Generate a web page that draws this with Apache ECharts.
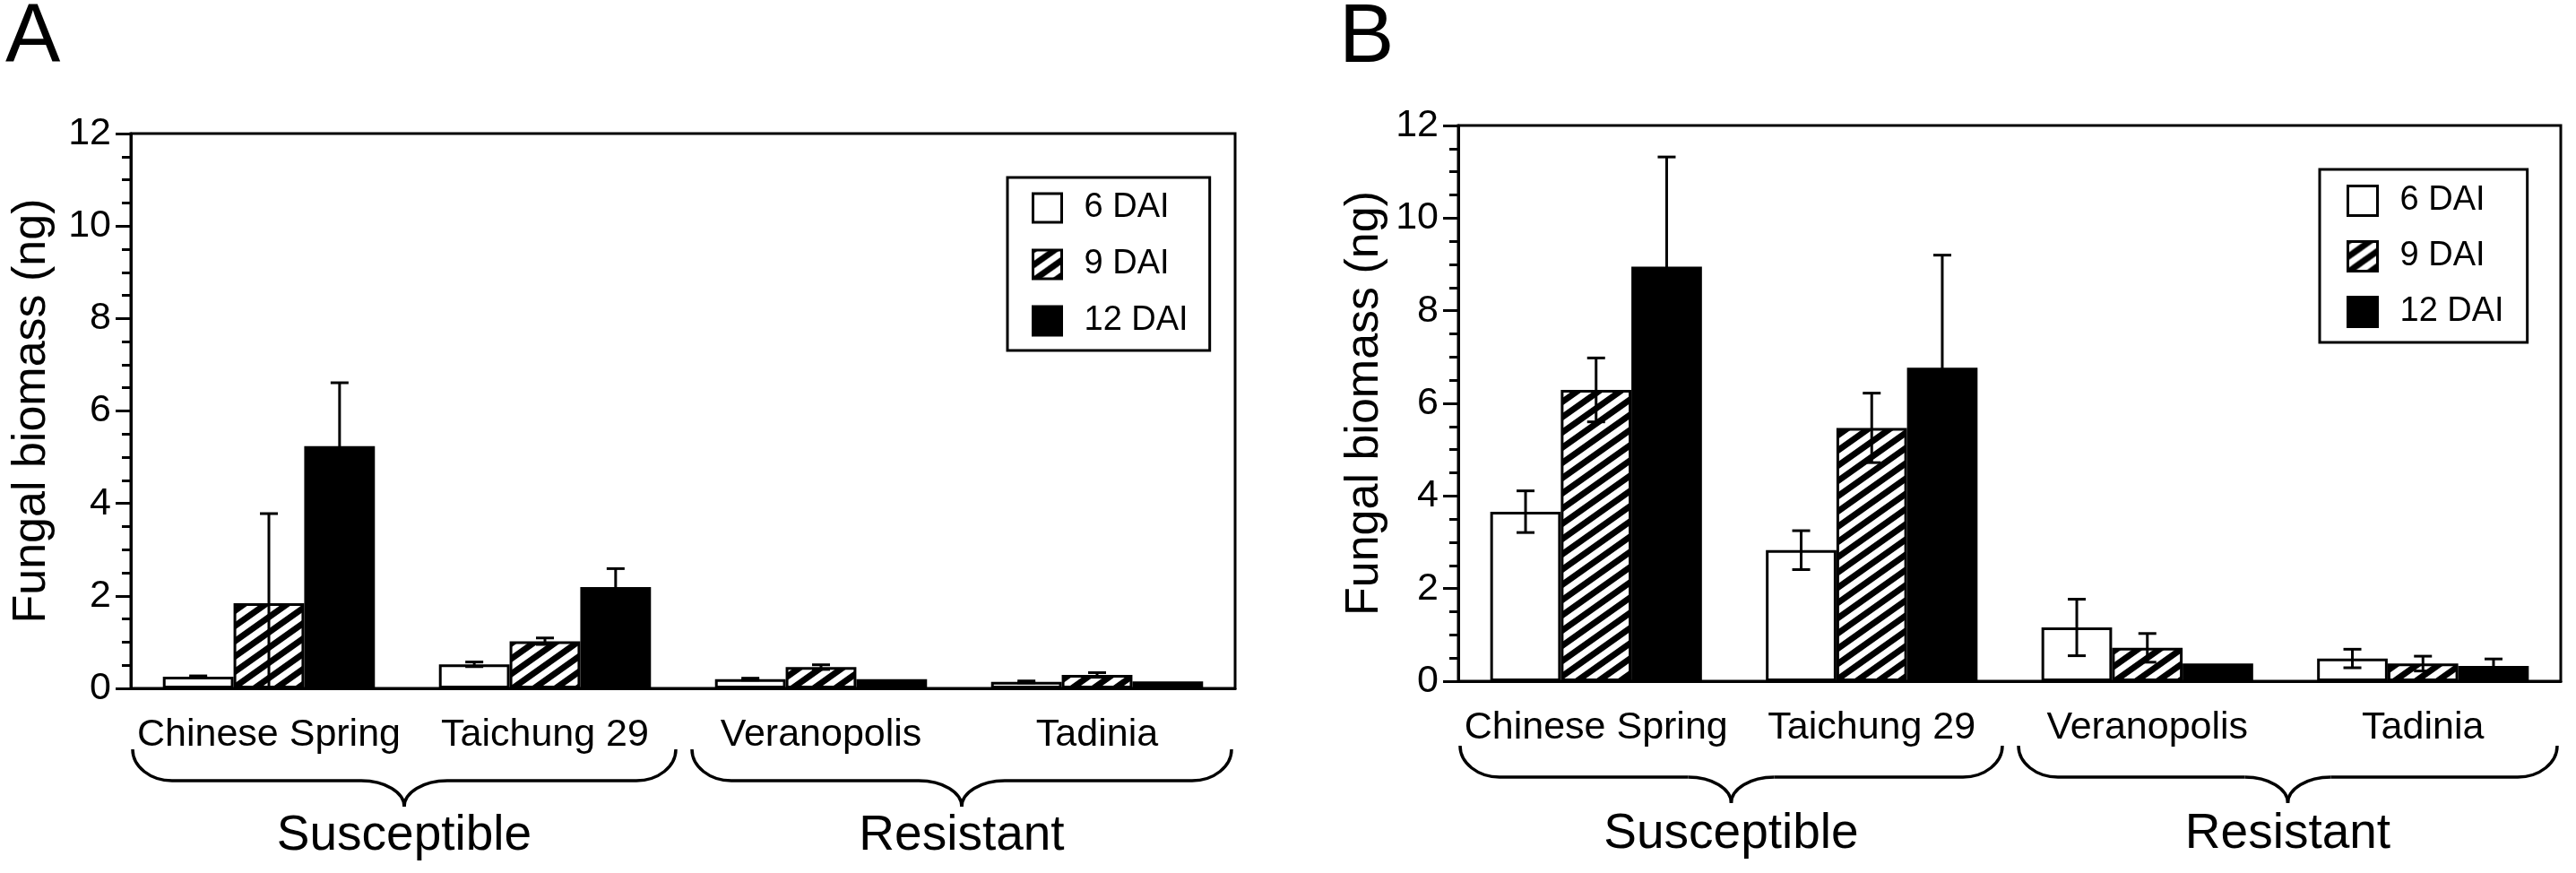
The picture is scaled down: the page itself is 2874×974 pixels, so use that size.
<!DOCTYPE html>
<html>
<head>
<meta charset="utf-8">
<script src="https://cdn.jsdelivr.net/npm/echarts@6/dist/echarts.min.js"></script>
<style>
html,body{margin:0;padding:0;background:#fff;}
#c{width:2874px;height:974px;}
</style>
</head>
<body>
<div id="c"></div>
<script>
// ---------- data ----------
const categories = ['Chinese Spring', 'Taichung 29', 'Veranopolis', 'Tadinia'];
const seriesNames = ['6 DAI', '9 DAI', '12 DAI'];
const groupLabels = ['Susceptible', 'Resistant'];
const panelLabels = ['A', 'B'];
const yAxisTitle = 'Fungal biomass (ng)';
const yMin = 0, yMax = 12, yInterval = 2;

// Panel A
const a6 = [0.25, 0.52, 0.20, 0.14];
const a9 = [1.84, 1.02, 0.46, 0.29];
const a12 = [5.24, 2.19, 0.20, 0.15];
const a6Err = [0.02, 0.05, 0.02, 0.02];
const a9Err = [1.94, 0.07, 0.05, 0.05];
const a12Err = [1.37, 0.40, 0, 0];

// Panel B
const b6 = [3.66, 2.83, 1.16, 0.49];
const b9 = [6.29, 5.47, 0.72, 0.38];
const b12 = [8.95, 6.77, 0.38, 0.33];
const b6Err = [0.45, 0.42, 0.61, 0.20];
const b9Err = [0.69, 0.75, 0.31, 0.16];
const b12Err = [2.37, 2.43, 0, 0.15];

// ---------- styling / layout ----------
const F = "'Liberation Sans', Arial, Helvetica, sans-serif";
const BAR_FRAC = 0.256;
const grids = [
  {left: 146, top: 149, width: 1232, height: 619},
  {left: 1627, top: 140, width: 1230, height: 620}
];
const nameGaps = [84, 78];
const legendPos = [
  {left: 1124, top: 198, size: 32, gap: 25, pad: [15, 24, 14, 27]},
  {left: 2588, top: 189, size: 33, gap: 24, pad: [16, 26, 15, 30]}
];
const braceY = [
  {top: 836, mid: 871, tip: 900, text: 933},
  {top: 832, mid: 867, tip: 896, text: 931}
];
const letterPos = [{x: 6, y: -2}, {x: 1494, y: -2}];

function hatchCanvas() {
  const W = 24, H = 17;
  const c = document.createElement('canvas');
  c.width = W; c.height = H;
  const g = c.getContext('2d');
  g.fillStyle = '#fff';
  g.fillRect(0, 0, W, H);
  g.strokeStyle = '#000';
  g.lineWidth = (H / 2) / Math.sqrt(1 + (H / W) * (H / W));
  for (let k = -1; k <= 1; k++) {
    g.beginPath();
    g.moveTo(-W, 2 * H + k * H);
    g.lineTo(2 * W, -H + k * H);
    g.stroke();
  }
  return c;
}
const hatch = {image: hatchCanvas(), repeat: 'repeat'};
const fills = ['#ffffff', hatch, '#000000'];

const panels = [
  {vals: [a6, a9, a12], errs: [a6Err, a9Err, a12Err]},
  {vals: [b6, b9, b12], errs: [b6Err, b9Err, b12Err]}
];

const series = [];
panels.forEach((p, gi) => {
  p.vals.forEach((vals, si) => {
    series.push({
      type: 'bar', name: seriesNames[si], xAxisIndex: gi, yAxisIndex: gi,
      data: vals, barWidth: (BAR_FRAC * 100) + '%', barGap: '0%',
      itemStyle: {color: fills[si], borderColor: '#000', borderWidth: 3},
      emphasis: {disabled: true}, silent: true, z: 2
    });
  });
  p.vals.forEach((vals, si) => {
    const errs = p.errs[si];
    series.push({
      type: 'custom', xAxisIndex: gi, yAxisIndex: gi, silent: true, z: 5,
      data: vals.map((v, i) => [i, v, errs[i]]),
      encode: {x: 0, y: 1},
      renderItem: function (params, api) {
        const i = api.value(0), v = api.value(1), e = api.value(2);
        if (!e) return {type: 'group', children: []};
        const bw = api.size([1, 0])[0] * BAR_FRAC;
        const c = api.coord([i, v]);
        const x = c[0] + (si - 1) * bw;
        const yt = api.coord([i, v + e])[1];
        const lo = Math.max(0, v - e);
        const yb = api.coord([i, lo])[1];
        const cap = 10;
        const st = {stroke: '#000', lineWidth: 3};
        const ch = [
          {type: 'line', shape: {x1: x, y1: yt, x2: x, y2: yb}, style: st},
          {type: 'line', shape: {x1: x - cap, y1: yt, x2: x + cap, y2: yt}, style: st}
        ];
        if (v - e > 0) ch.push({type: 'line', shape: {x1: x - cap, y1: yb, x2: x + cap, y2: yb}, style: st});
        return {type: 'group', children: ch};
      }
    });
  });
});

function braceElems(x1, x2, xc, yTop, yMid, yTip) {
  const k = 0.552;
  const rx = 44, rx2 = 48;
  const ry = yMid - yTop, ry2 = yTip - yMid;
  const st = {fill: null, stroke: '#000', lineWidth: 3.5};
  const bz = (a, b, c, d, e, f, g, h) => ({type: 'bezierCurve', silent: true,
    shape: {x1: a, y1: b, cpx1: c, cpy1: d, cpx2: e, cpy2: f, x2: g, y2: h}, style: st});
  const ln = (a, b, c, d) => ({type: 'line', silent: true, shape: {x1: a, y1: b, x2: c, y2: d}, style: st});
  return [
    bz(x1, yTop, x1, yTop + k * ry, x1 + rx - k * rx, yMid, x1 + rx, yMid),
    ln(x1 + rx, yMid, xc - rx2, yMid),
    bz(xc - rx2, yMid, xc - rx2 + k * rx2, yMid, xc, yTip - k * ry2, xc, yTip),
    bz(xc, yTip, xc, yTip - k * ry2, xc + rx2 - k * rx2, yMid, xc + rx2, yMid),
    ln(xc + rx2, yMid, x2 - rx, yMid),
    bz(x2 - rx, yMid, x2 - rx + k * rx, yMid, x2, yTop + k * ry, x2, yTop)
  ];
}

const graphic = [];
grids.forEach((g, gi) => {
  const b0 = g.left, b2 = g.left + g.width / 2, b4 = g.left + g.width;
  const spans = [[b0 + 2, b2 - 8], [b2 + 10, b4 - 4]];
  const by = braceY[gi];
  spans.forEach((s, k) => {
    const xc = (s[0] + s[1]) / 2;
    braceElems(s[0], s[1], xc, by.top, by.mid, by.tip).forEach(el => graphic.push(el));
    graphic.push({
      type: 'text', silent: true, x: xc, y: by.text,
      style: {text: groupLabels[k], font: '55px ' + F, fill: '#000', align: 'center', verticalAlign: 'middle'}
    });
  });
  graphic.push({
    type: 'text', silent: true, x: letterPos[gi].x, y: letterPos[gi].y,
    style: {text: panelLabels[gi], font: '92px ' + F, fill: '#000', align: 'left', verticalAlign: 'top'}
  });
});

const option = {
  animation: false,
  backgroundColor: '#fff',
  grid: grids.map(g => Object.assign({show: true, borderColor: '#000', borderWidth: 3, backgroundColor: 'transparent', containLabel: false}, g)),
  xAxis: grids.map((g, gi) => ({
    gridIndex: gi, type: 'category', data: categories,
    axisLine: {lineStyle: {color: '#000', width: 3}},
    axisTick: {length: 15, lineStyle: {color: '#000', width: 3}},
    axisLabel: {fontSize: 43, color: '#000', margin: 31, fontFamily: F, interval: 0}
  })),
  yAxis: grids.map((g, gi) => ({
    gridIndex: gi, type: 'value', min: yMin, max: yMax, interval: yInterval,
    name: yAxisTitle, nameLocation: 'middle', nameGap: nameGaps[gi], nameRotate: 90,
    nameTextStyle: {fontSize: 52, color: '#000', fontFamily: F},
    axisLine: {show: true, lineStyle: {color: '#000', width: 3}},
    axisTick: {show: true, length: 17, lineStyle: {color: '#000', width: 3}},
    minorTick: {show: true, splitNumber: 4, length: 10, lineStyle: {color: '#000', width: 3}},
    axisLabel: {fontSize: 43, color: '#000', margin: 22, fontFamily: F},
    splitLine: {show: false}, minorSplitLine: {show: false}
  })),
  legend: legendPos.map(l => ({
    left: l.left, top: l.top, orient: 'vertical', data: seriesNames,
    itemWidth: l.size, itemHeight: l.size, itemGap: l.gap, padding: l.pad,
    borderColor: '#000', borderWidth: 3, backgroundColor: '#fff',
    icon: 'rect', selectedMode: false,
    itemStyle: {borderColor: '#000', borderWidth: 3},
    textStyle: {fontSize: 38, color: '#000', fontFamily: F, padding: [0, 0, 0, 20]}
  })),
  graphic: graphic,
  series: series
};

const chart = echarts.init(document.getElementById('c'), null, {renderer: 'canvas'});
chart.setOption(option);
</script>
</body>
</html>
